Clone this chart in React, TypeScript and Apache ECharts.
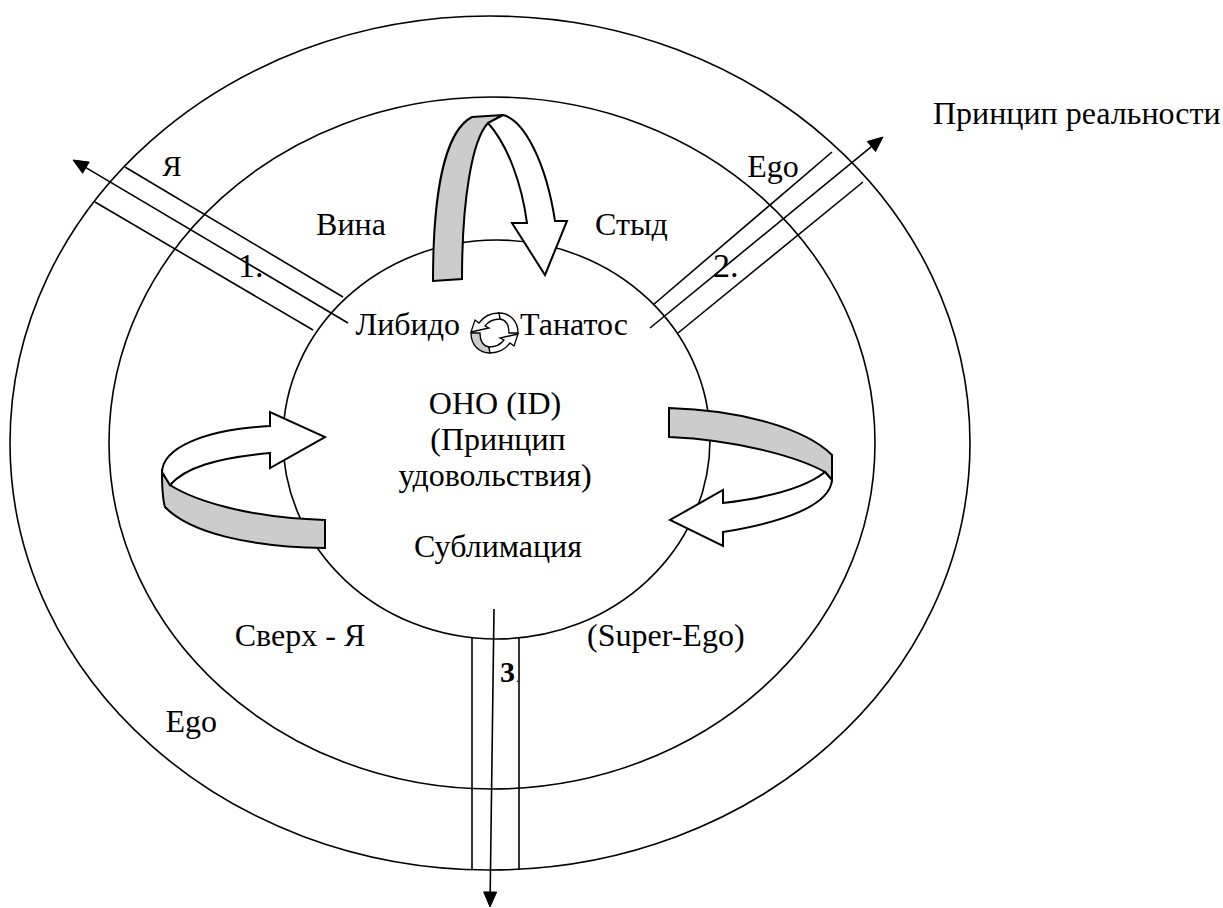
import React, { useEffect, useRef } from "react";
import * as echarts from "echarts";

const FONT = '"Liberation Serif", "Times New Roman", serif';

// Text content of the diagram
const labelTexts = [
  "Принцип реальности",
  "Я",
  "Ego",
  "Вина",
  "Стыд",
  "1.",
  "2.",
  "Либидо",
  "Танатос",
  "ОНО (ID)",
  "(Принцип",
  "удовольствия)",
  "Сублимация",
  "Сверх - Я",
  "(Super-Ego)",
  "Ego",
];
// [x, baseline, size, align]
const labelLayout: [number, number, number, string][] = [
  [933, 124, 32, "left"],
  [172, 176, 29, "center"],
  [773, 177, 32, "center"],
  [351, 235, 32, "center"],
  [595, 235, 32, "left"],
  [238, 277, 34, "left"],
  [713, 277, 34, "left"],
  [460, 335, 32, "right"],
  [520, 335, 32, "left"],
  [495, 414, 32, "center"],
  [498, 450, 32, "center"],
  [495, 486, 32, "center"],
  [498, 557, 32, "center"],
  [300, 646, 32, "center"],
  [587, 646, 32, "left"],
  [217, 732, 32, "right"],
];

// ellipses: cx, cy, rx, ry
const rings: [number, number, number, number][] = [
  [490, 443, 480, 427],
  [492, 443, 383, 346],
  [496.5, 439.5, 213.5, 199.5],
];

// plain channel lines
const channelLines: [number, number, number, number][] = [
  [125, 167, 343, 297],
  [95, 202, 313, 330],
  [653, 305, 832, 152],
  [678, 333, 863, 182],
  [472, 638, 472, 870],
  [519, 638, 519, 870],
];
// arrow lines: from -> tip
const arrowLines: [number, number, number, number][] = [
  [348, 323, 73, 160],
  [650, 328, 883, 137],
  [494, 609, 490, 907],
];

type Cmd = (string | number)[];
const toD = (cmds: Cmd[], tf?: (x: number, y: number) => [number, number]) =>
  cmds
    .map((c) => {
      const out: (string | number)[] = [c[0]];
      for (let i = 1; i < c.length; i += 2) {
        let x = c[i] as number;
        let y = c[i + 1] as number;
        if (tf) [x, y] = tf(x, y);
        out.push(x.toFixed(1), y.toFixed(1));
      }
      return out.join(" ");
    })
    .join(" ");

const topGray: Cmd[] = [
  ["M", 433, 281],
  ["C", 433, 200, 443, 132, 472, 117],
  ["L", 503, 115],
  ["L", 488, 123],
  ["C", 472, 140, 462, 200, 462, 279],
  ["Z"],
];
const topWhite: Cmd[] = [
  ["M", 503, 115],
  ["C", 524, 120, 546, 162, 555, 221],
  ["L", 567, 221],
  ["L", 545, 275],
  ["L", 512, 223],
  ["L", 527, 223],
  ["C", 522, 185, 508, 145, 488, 123],
  ["Z"],
];
const leftWhite: Cmd[] = [
  ["M", 162, 472],
  ["C", 163, 449, 200, 430, 270, 426],
  ["L", 270, 412],
  ["L", 325, 437],
  ["L", 270, 468],
  ["L", 270, 453],
  ["C", 215, 458, 185, 468, 170, 485],
  ["Z"],
];
const leftGray: Cmd[] = [
  ["M", 162, 472],
  ["L", 170, 485],
  ["C", 195, 501, 250, 518, 325, 520],
  ["L", 325, 548],
  ["C", 250, 547, 190, 533, 165, 507],
  ["C", 162, 497, 162, 485, 162, 472],
  ["Z"],
];
const rightGray: Cmd[] = [
  ["M", 669, 408],
  ["C", 740, 410, 805, 428, 832, 455],
  ["L", 832, 480],
  ["L", 825, 472],
  ["C", 800, 458, 740, 440, 669, 437],
  ["Z"],
];
const rightWhite: Cmd[] = [
  ["M", 832, 480],
  ["C", 830, 505, 785, 522, 723, 532],
  ["L", 723, 546],
  ["L", 670, 520],
  ["L", 723, 490],
  ["L", 723, 503],
  ["C", 765, 498, 805, 488, 825, 472],
  ["Z"],
];
const iconGray: Cmd[] = [
  ["M", 471, 333],
  ["L", 480, 333],
  ["C", 480, 341, 483, 346, 489, 347],
  ["L", 490, 353],
  ["C", 479, 353, 471, 345, 471, 333],
  ["Z"],
];
const iconWhite: Cmd[] = [
  ["M", 489, 347],
  ["C", 496, 347, 501, 344, 504, 340],
  ["L", 500, 338],
  ["L", 518, 334],
  ["L", 514, 346],
  ["L", 510, 343],
  ["C", 505, 350, 498, 353, 490, 353],
  ["Z"],
];
const rot = (x: number, y: number): [number, number] => [989 - x, 666 - y];

const shapeDefs: [string, string, string][] = [
  ["dgTopGray", toD(topGray), "#cccccc"],
  ["dgTopWhite", toD(topWhite), "#ffffff"],
  ["dgLeftGray", toD(leftGray), "#cccccc"],
  ["dgLeftWhite", toD(leftWhite), "#ffffff"],
  ["dgRightGray", toD(rightGray), "#cccccc"],
  ["dgRightWhite", toD(rightWhite), "#ffffff"],
  ["dgIconGray", toD(iconGray), "#cccccc"],
  ["dgIconWhite", toD(iconWhite), "#ffffff"],
  ["dgIconGray2", toD(iconGray, rot), "#ffffff"],
  ["dgIconWhite2", toD(iconWhite, rot), "#ffffff"],
];
shapeDefs.forEach(([name, d]) => {
  echarts.graphic.registerShape(name, echarts.graphic.extendPath(d, {}) as any);
});

function arrowHead(fx: number, fy: number, tx: number, ty: number, len: number, half: number) {
  const dx = tx - fx;
  const dy = ty - fy;
  const L = Math.hypot(dx, dy);
  const ux = dx / L;
  const uy = dy / L;
  const bx = tx - ux * len;
  const by = ty - uy * len;
  return {
    base: [bx, by],
    points: [
      [tx, ty],
      [bx - uy * half, by + ux * half],
      [bx + uy * half, by - ux * half],
    ],
  };
}

export default function App() {
  const ref = useRef<HTMLDivElement>(null);
  useEffect(() => {
    if (!ref.current) return;
    const chart = echarts.init(ref.current, undefined, { renderer: "svg" });
    const elements: any[] = [];
    rings.forEach(([cx, cy, rx, ry]) =>
      elements.push({
        type: "ellipse",
        shape: { cx, cy, rx, ry },
        style: { fill: "none", stroke: "#000", lineWidth: 1.6 },
      })
    );
    channelLines.forEach(([x1, y1, x2, y2]) =>
      elements.push({
        type: "line",
        shape: { x1, y1, x2, y2 },
        style: { stroke: "#000", lineWidth: 1.6 },
      })
    );
    arrowLines.forEach(([x1, y1, x2, y2]) => {
      const h = arrowHead(x1, y1, x2, y2, 15, 6.5);
      elements.push({
        type: "line",
        shape: { x1, y1, x2: h.base[0], y2: h.base[1] },
        style: { stroke: "#000", lineWidth: 1.6 },
      });
      elements.push({
        type: "polygon",
        shape: { points: h.points },
        style: { fill: "#000", stroke: "#000", lineWidth: 1 },
      });
    });
    shapeDefs.forEach(([name, , fill]) =>
      elements.push({
        type: name,
        x: 0,
        y: 0,
        style: { fill, stroke: "#000", lineWidth: name.startsWith("dgIcon") ? 1.3 : 2 },
      })
    );
    labelTexts.forEach((text, i) => {
      const [x, base, size, align] = labelLayout[i];
      elements.push({
        type: "text",
        x,
        y: base - 0.34 * size,
        style: {
          text,
          font: `${size}px ${FONT}`,
          fill: "#000",
          align,
          textAlign: align,
          verticalAlign: "middle",
          textVerticalAlign: "middle",
        },
      });
    });
    // bold "3" with tiny dot
    elements.push({
      type: "text",
      x: 500,
      y: 682 - 0.34 * 30,
      style: {
        text: "3",
        font: `bold 30px ${FONT}`,
        fill: "#000",
        align: "left",
        textAlign: "left",
        verticalAlign: "middle",
        textVerticalAlign: "middle",
      },
    });
    elements.push({
      type: "text",
      x: 516,
      y: 682 - 0.34 * 12,
      style: {
        text: ".",
        font: `12px ${FONT}`,
        fill: "#000",
        align: "left",
        textAlign: "left",
        verticalAlign: "middle",
        textVerticalAlign: "middle",
      },
    });

    chart.setOption({
      animation: false,
      backgroundColor: "#ffffff",
      graphic: { elements },
    });
    return () => chart.dispose();
  }, []);
  return (
    <div
      ref={ref}
      style={{ position: "absolute", left: 0, top: 0, width: 1223, height: 908, background: "#fff" }}
    />
  );
}
